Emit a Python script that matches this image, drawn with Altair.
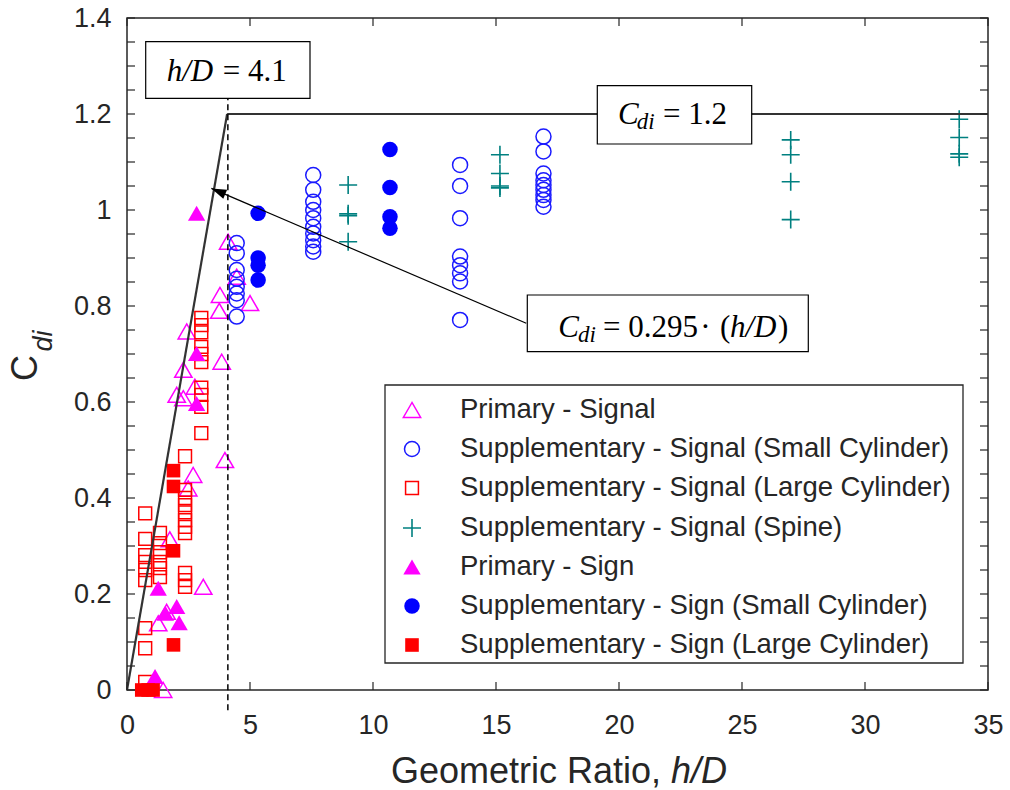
import altair as alt
import pandas as pd

# ---------------- measured drag coefficients ----------------
# Primary - Signal (hollow triangles)
prim_sig_x = [4.11, 4.46, 3.78, 5.00, 3.75, 3.85, 2.43, 2.29, 2.76, 2.02, 2.29,
              3.98, 2.69, 2.49, 1.74, 3.10, 1.61, 1.27, 1.47]
prim_sig_y = [0.934, 0.861, 0.823, 0.806, 0.790, 0.684, 0.747, 0.667, 0.632, 0.615,
              0.608, 0.479, 0.448, 0.420, 0.314, 0.215, 0.163, 0.139, 0.000]

# Supplementary - Signal (Small Cylinder) (hollow circles)
sup_small_x = [4.46] * 8 + [7.57] * 10 + [13.54] * 8 + [16.93] * 9
sup_small_y = [0.931, 0.910, 0.875, 0.857, 0.840, 0.826, 0.812, 0.778,
               1.073, 1.042, 1.017, 1.000, 0.983, 0.965, 0.951, 0.937, 0.924, 0.913,
               1.094, 1.050, 0.983, 0.903, 0.885, 0.868, 0.851, 0.771,
               1.153, 1.122, 1.076, 1.062, 1.052, 1.042, 1.031, 1.021, 1.007]

# Supplementary - Signal (Large Cylinder) (hollow squares)
sup_large_x = [3.02] * 10 + [2.36] * 11 + [1.34] * 6 + [0.74] * 9
sup_large_y = [0.775, 0.760, 0.745, 0.715, 0.700, 0.683, 0.630, 0.615, 0.590, 0.535,
               0.487, 0.417, 0.400, 0.385, 0.370, 0.354, 0.340, 0.327, 0.244, 0.229, 0.215,
               0.327, 0.306, 0.287, 0.267, 0.254, 0.235,
               0.368, 0.315, 0.281, 0.267, 0.250, 0.229, 0.129, 0.087, 0.017]

# Supplementary - Signal (Spine) (plus signs)
sup_spine_x = [8.99] * 4 + [15.16] * 4 + [26.98] * 4 + [33.83] * 4
sup_spine_y = [1.052, 0.992, 0.988, 0.934,
               1.115, 1.076, 1.050, 1.046,
               1.146, 1.115, 1.059, 0.980,
               1.189, 1.151, 1.117, 1.110]

# Primary - Sign (filled triangles)
prim_sign_x = [2.83, 2.83, 2.83, 1.27, 2.02, 1.56, 2.12, 1.14]
prim_sign_y = [0.993, 0.701, 0.597, 0.212, 0.174, 0.160, 0.140, 0.028]

# Supplementary - Sign (Small Cylinder) (filled circles)
sign_small_x = [5.33] * 4 + [10.69] * 4
sign_small_y = [0.993, 0.900, 0.885, 0.854, 1.126, 1.047, 0.986, 0.962]

# Supplementary - Sign (Large Cylinder) (filled squares)
sign_large_x = [1.89, 1.89, 1.89, 1.89, 0.60, 0.86, 1.06]
sign_large_y = [0.457, 0.424, 0.290, 0.094, 0.000, 0.000, 0.000]

# design envelope: linear rise C = 0.295 h/D capped at 1.2
env_rise_x = [0.0, 4.07]
env_rise_y = [0.0, 1.2]
env_cap_x = [4.07, 35.0]
env_cap_y = [1.2, 1.2]
hd_limit = 4.1
hd_line_y = [-0.042, 1.233]

# arrow from the slope label to the rising line
arrow_tail = (16.23, 0.764)
arrow_tip = (3.43, 1.045)

x_ticks = [0, 5, 10, 15, 20, 25, 30, 35]
y_ticks = [0, 0.2, 0.4, 0.6, 0.8, 1, 1.2, 1.4]
y_minor = [round(0.05 * i, 2) for i in range(29)]

legend_names = [
    "Primary - Signal",
    "Supplementary - Signal (Small Cylinder)",
    "Supplementary - Signal (Large Cylinder)",
    "Supplementary - Signal (Spine)",
    "Primary - Sign",
    "Supplementary - Sign (Small Cylinder)",
    "Supplementary - Sign (Large Cylinder)",
]

# ---------------- styling ----------------
W, H = 861, 672
AX = "#262626"
SANS = "Liberation Sans"
SERIF = "Liberation Serif"
PLUS = "M-1,0H1M0,-1V1"

styles = [
    dict(shape="triangle-up", filled=False, color="#ff00ff", size=300, strokeWidth=1.5),
    dict(shape="circle", filled=False, color="#1a1aff", size=225, strokeWidth=1.5),
    dict(shape="square", filled=False, color="#ff0000", size=165, strokeWidth=1.5),
    dict(shape=PLUS, filled=False, color="#008080", size=324, strokeWidth=1.6),
    dict(shape="triangle-up", filled=True, color="#ff00ff", size=300, strokeWidth=0),
    dict(shape="circle", filled=True, color="#0000ff", size=240, strokeWidth=0),
    dict(shape="square", filled=True, color="#ff0000", size=185, strokeWidth=0),
]
series = [
    (prim_sig_x, prim_sig_y), (sup_small_x, sup_small_y), (sup_large_x, sup_large_y),
    (sup_spine_x, sup_spine_y), (prim_sign_x, prim_sign_y), (sign_small_x, sign_small_y),
    (sign_large_x, sign_large_y),
]

x_scale = alt.Scale(domain=[0, 35], nice=False, zero=False)
y_scale = alt.Scale(domain=[0, 1.4], nice=False, zero=False)
x_axis = alt.Axis(values=x_ticks, ticks=False, tickSize=0, domain=False, grid=False,
                  title=None, labelFont=SANS, labelFontSize=27, labelColor=AX,
                  labelPadding=22, labelFlush=False, labelOverlap=False)
y_axis = alt.Axis(values=y_ticks, format="~g", ticks=False, tickSize=0, domain=False,
                  grid=False, title=None, labelFont=SANS, labelFontSize=27,
                  labelColor=AX, labelPadding=16, labelFlush=False, labelOverlap=False)


def X(field):
    return alt.X(field, type="quantitative", scale=x_scale, axis=x_axis)


def Y(field):
    return alt.Y(field, type="quantitative", scale=y_scale, axis=y_axis)


one = pd.DataFrame({"k": [0]})
layers = []

# data series
for (xs, ys), st in zip(series, styles):
    df = pd.DataFrame({"x": xs, "y": ys})
    layers.append(alt.Chart(df).mark_point(opacity=1, **st).encode(x=X("x"), y=Y("y")))

# envelope lines
for xs, ys in [(env_rise_x, env_rise_y), (env_cap_x, env_cap_y)]:
    df = pd.DataFrame({"x": xs, "y": ys})
    layers.append(alt.Chart(df).mark_line(color="#333333", strokeWidth=2.2, clip=False)
                  .encode(x=X("x"), y=Y("y")))

# h/D limit (dashed)
hd_df = pd.DataFrame({"x": [hd_limit, hd_limit], "y": hd_line_y})
layers.append(alt.Chart(hd_df).mark_line(color="black", strokeWidth=1.5,
                                          strokeDash=[6, 4], clip=False)
              .encode(x=X("x"), y=Y("y")))

# arrow
arr_df = pd.DataFrame({"x": [arrow_tail[0]], "y": [arrow_tail[1]],
                       "x2": [arrow_tip[0]], "y2": [arrow_tip[1]]})
layers.append(alt.Chart(arr_df).mark_rule(color="black", strokeWidth=1.2)
              .encode(x=X("x"), y=Y("y"), x2="x2", y2="y2"))
head_df = pd.DataFrame({"x": [arrow_tip[0]], "y": [arrow_tip[1]]})
layers.append(alt.Chart(head_df).mark_point(shape="M0,0L0.65,2L-0.65,2Z", filled=True,
                                             color="black", size=225, angle=293,
                                             opacity=1, strokeWidth=0)
              .encode(x=X("x"), y=Y("y")))


def box(x0, y0, x1, y1, stroke="black", sw=1.2):
    return alt.Chart(one).mark_rect(fill="white", stroke=stroke, strokeWidth=sw).encode(
        x=alt.value(x0), x2=alt.value(x1), y=alt.value(y0), y2=alt.value(y1))


def label(text, x, y, size, style="normal", font=SERIF, align="left",
          baseline="alphabetic", color="black", angle=0):
    return alt.Chart(one).mark_text(text=text, align=align, baseline=baseline, font=font,
                                    fontSize=size, fontStyle=style, color=color,
                                    angle=angle).encode(x=alt.value(x), y=alt.value(y))


# annotation boxes
layers += [
    box(18.7, 23.7, 183, 80.3),
    label("h/D", 39.7, 62.5, 31, "italic"),
    label("= 4.1", 95.7, 62.5, 31),

    box(470.3, 67.7, 624.7, 126),
    label("C", 491, 106, 31, "italic"),
    label("di", 509.7, 111, 23, "italic"),
    label("= 1.2", 536, 106, 31),

    box(400.3, 277, 681.3, 333.7),
    label("C", 431.3, 318.7, 31, "italic"),
    label("di", 451, 323.7, 23, "italic"),
    label("= 0.295", 476, 318.7, 31),
    label("\u00b7", 578.5, 318.7, 31, align="center"),
    label("(", 593, 318.7, 31),
    label("h/D", 603, 318.7, 31, "italic"),
    label(")", 651, 318.7, 31),
]

# legend
leg_rows = [392, 431, 470, 510, 549, 588, 627]
layers.append(box(258, 367, 836, 645, stroke=AX, sw=1.3))
for name, st, ry in zip(legend_names, styles, leg_rows):
    layers.append(alt.Chart(one).mark_point(opacity=1, **st)
                  .encode(x=alt.value(285), y=alt.value(ry)))
    layers.append(label(name, 333, ry, 27.5, font=SANS, baseline="middle", color=AX))

# axis titles
layers += [
    label("Geometric Ratio, ", 264, 765, 36, font=SANS, color=AX),
    label("h/D", 544, 765, 36, "italic", font=SANS, color=AX),
    label("C", -90, 350, 36, font=SANS, align="center", color=AX, angle=270),
    label("di", -75, 323, 27, "italic", font=SANS, align="center", color=AX, angle=270),
]

# inward tick marks on all four sides
xt = pd.DataFrame({"v": x_ticks})
yt = pd.DataFrame({"v": y_minor})
tick = dict(color=AX, strokeWidth=1.2)
layers += [
    alt.Chart(xt).mark_rule(**tick).encode(x=X("v"), y=alt.value(H), y2=alt.value(H - 8)),
    alt.Chart(xt).mark_rule(**tick).encode(x=X("v"), y=alt.value(0), y2=alt.value(8)),
    alt.Chart(yt).mark_rule(**tick).encode(y=Y("v"), x=alt.value(0), x2=alt.value(8)),
    alt.Chart(yt).mark_rule(**tick).encode(y=Y("v"), x=alt.value(W), x2=alt.value(W - 8)),
]

chart = (
    alt.layer(*layers)
    .properties(width=W, height=H,
                padding={"left": 127, "top": 18, "right": 22, "bottom": 100},
                autosize=alt.AutoSizeParams(type="none"))
    .configure_view(stroke=AX, strokeWidth=1.5)
)

chart.save("out.html", embed_options={"renderer": "svg", "actions": False})
